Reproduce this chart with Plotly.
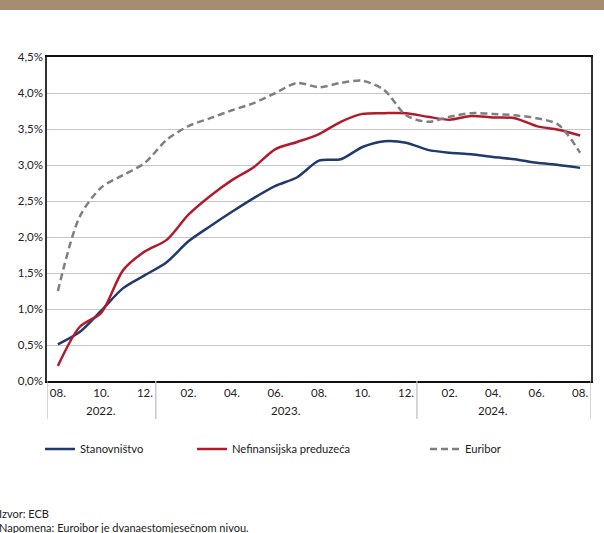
import plotly.graph_objects as go

months = ["08.2022", "09.2022", "10.2022", "11.2022", "12.2022",
          "01.2023", "02.2023", "03.2023", "04.2023", "05.2023", "06.2023",
          "07.2023", "08.2023", "09.2023", "10.2023", "11.2023", "12.2023",
          "01.2024", "02.2024", "03.2024", "04.2024", "05.2024", "06.2024",
          "07.2024", "08.2024"]
month_labels = ["08.", "", "10.", "", "12.", "", "02.", "", "04.", "", "06.", "",
                "08.", "", "10.", "", "12.", "", "02.", "", "04.", "", "06.", "", "08."]

stanovnistvo = [0.51, 0.68, 0.98, 1.29, 1.47, 1.65, 1.94, 2.15, 2.35, 2.54, 2.71,
                2.83, 3.06, 3.08, 3.25, 3.33, 3.31, 3.21, 3.17, 3.15, 3.11, 3.08,
                3.03, 3.00, 2.96]
preduzeca = [0.21, 0.75, 0.95, 1.54, 1.80, 1.96, 2.31, 2.57, 2.79, 2.97, 3.22,
             3.32, 3.43, 3.60, 3.71, 3.72, 3.72, 3.67, 3.63, 3.68, 3.66, 3.65,
             3.54, 3.49, 3.41]
euribor = [1.25, 2.28, 2.69, 2.86, 3.03, 3.35, 3.54, 3.65, 3.76, 3.86, 4.00,
           4.14, 4.08, 4.14, 4.17, 4.04, 3.69, 3.60, 3.67, 3.72, 3.71, 3.69,
           3.65, 3.56, 3.17]

y_ticks = [0, 0.5, 1.0, 1.5, 2.0, 2.5, 3.0, 3.5, 4.0, 4.5]
y_tick_text = ["0,0%", "0,5%", "1,0%", "1,5%", "2,0%", "2,5%", "3,0%", "3,5%", "4,0%", "4,5%"]

years = ["2022.", "2023.", "2024."]
year_pos = [2, 10.5, 20]
year_bounds = [-0.5, 4.5, 16.5, 24.5]

FONT = "Lato"
x_idx = list(range(len(months)))

fig = go.Figure()
fig.add_trace(go.Scatter(x=x_idx, y=stanovnistvo, name="Stanovništvo", mode="lines",
                         line=dict(color="#1F3A6B", width=2.5, shape="spline", smoothing=0.8),
                         legend="legend", showlegend=True))
fig.add_trace(go.Scatter(x=x_idx, y=preduzeca, name="Nefinansijska preduzeća", mode="lines",
                         line=dict(color="#B01C2E", width=2.5, shape="spline", smoothing=0.8),
                         legend="legend2", showlegend=True))
fig.add_trace(go.Scatter(x=x_idx, y=euribor, name="Euribor", mode="lines",
                         line=dict(color="#7F7F7F", width=2.5, shape="spline", smoothing=0.8,
                                   dash="7px,4px"),
                         legend="legend3", showlegend=True))

shapes = []
# top brown band
shapes.append(dict(type="rect", xref="paper", yref="paper", x0=-0.1, x1=1.1,
                   y0=(381 - 10) / 324, y1=1.3, fillcolor="#A48D70", line=dict(width=0),
                   layer="below"))
for b in year_bounds:
    shapes.append(dict(type="line", xref="x", yref="paper", x0=b, x1=b, y0=0,
                       y1=(381 - 419) / 324, line=dict(color="#BFBFBF", width=1.3)))

annotations = []
for yname, yp in zip(years, year_pos):
    annotations.append(dict(x=yp, y=(381 - 410) / 324, xref="x", yref="paper", text=yname,
                            showarrow=False, xanchor="center", yanchor="middle",
                            font=dict(family=FONT, size=11.5, color="#222")))
annotations.append(dict(x=(-3 - 47) / 544, y=(381 - 513) / 324, xref="paper", yref="paper",
                        text="Izvor: ECB", showarrow=False, xanchor="left", yanchor="middle",
                        font=dict(family=FONT, size=11, color="#222")))
annotations.append(dict(x=(-3 - 47) / 544, y=(381 - 527) / 324, xref="paper", yref="paper",
                        text="Napomena: Euroibor je dvanaestomjesečnom nivou.", showarrow=False,
                        xanchor="left", yanchor="middle",
                        font=dict(family=FONT, size=11, color="#222")))

legend_common = dict(orientation="h", xref="container", yref="container", yanchor="middle",
                     bgcolor="rgba(0,0,0,0)", font=dict(family=FONT, size=11.2, color="#222"),
                     itemwidth=30)

fig.update_layout(
    width=604, height=533,
    showlegend=True,
    margin=dict(l=47, r=13, t=57, b=152),
    paper_bgcolor="white", plot_bgcolor="white",
    font=dict(family=FONT, size=11.5, color="#222"),
    shapes=shapes, annotations=annotations,
    legend=dict(x=40 / 604, y=1 - 449 / 533, **legend_common),
    legend2=dict(x=192 / 604, y=1 - 449 / 533, **legend_common),
    legend3=dict(x=425 / 604, y=1 - 449 / 533, **legend_common),
    xaxis=dict(range=[-0.5, 24.5], tickvals=x_idx, ticktext=month_labels, showgrid=False,
               ticks="", showline=True, linecolor="#111", linewidth=1.6, mirror=True,
               zeroline=False, tickfont=dict(family=FONT, size=11.5, color="#222")),
    yaxis=dict(range=[0, 4.5], tickvals=y_ticks, ticktext=y_tick_text, showgrid=True,
               gridcolor="#C6C6C6", gridwidth=1.4, ticks="", showline=True, linecolor="#333",
               linewidth=1.5, mirror=True, zeroline=False,
               tickfont=dict(family=FONT, size=11.5, color="#222")),
)

fig.write_html("out.html", config={"displayModeBar": False},
               post_script="document.body.style.margin='0';")
